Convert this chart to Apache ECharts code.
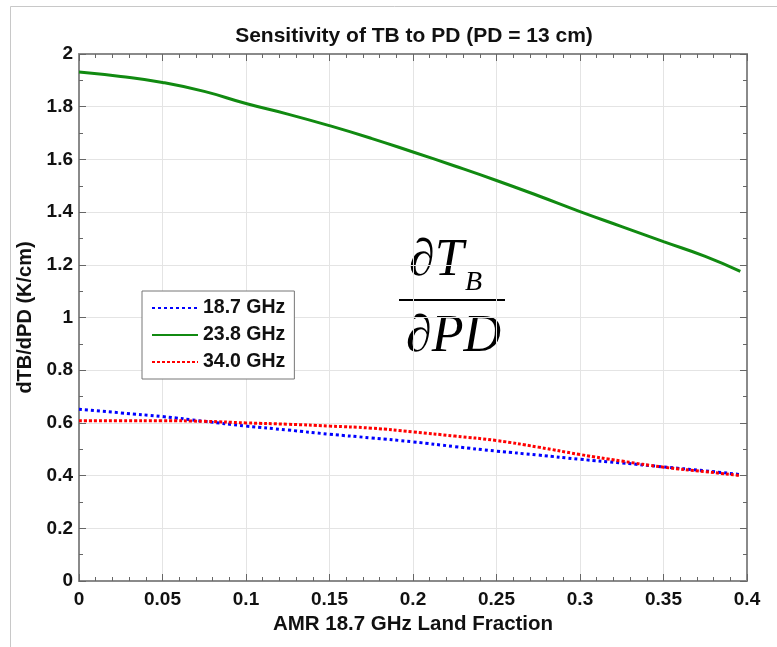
<!DOCTYPE html>
<html><head><meta charset="utf-8">
<script src="https://cdn.jsdelivr.net/npm/echarts@6/dist/echarts.min.js"></script>
<style>html,body{margin:0;padding:0;background:#fff}#c{width:777px;height:647px}</style>
</head><body><div id="c"></div>
<script>
const landFraction = [0, 0.025, 0.05, 0.075, 0.1, 0.125, 0.15, 0.175, 0.2, 0.225, 0.25, 0.275, 0.3, 0.325, 0.35, 0.375, 0.396];
const ghz187 = [0.652, 0.638, 0.624, 0.606, 0.588, 0.573, 0.557, 0.543, 0.528, 0.510, 0.493, 0.478, 0.462, 0.448, 0.433, 0.418, 0.404];
const ghz238 = [1.932, 1.915, 1.892, 1.858, 1.812, 1.772, 1.728, 1.680, 1.628, 1.575, 1.520, 1.462, 1.402, 1.345, 1.288, 1.232, 1.175];
const ghz340 = [0.608, 0.608, 0.608, 0.606, 0.600, 0.595, 0.588, 0.580, 0.566, 0.550, 0.533, 0.508, 0.480, 0.455, 0.432, 0.415, 0.400];
const seriesNames = ['18.7 GHz', '23.8 GHz', '34.0 GHz'];
const xTicks = ['0','0.05','0.1','0.15','0.2','0.25','0.3','0.35','0.4'];
const yTicks = ['0','0.2','0.4','0.6','0.8','1','1.2','1.4','1.6','1.8','2'];
const titleText = 'Sensitivity of TB to PD (PD = 13 cm)';

const pair = arr => landFraction.map((x, i) => [x, arr[i]]);
const chart = echarts.init(document.getElementById('c'));
const font = '"Liberation Sans", Arial, sans-serif';
const axColor = '#8a8a8a';
const txt = '#111';
function axisBase(extra) {
  return Object.assign({
    type: 'value',
    axisLine: {show: true, onZero: false, lineStyle: {color: axColor, width: 2}},
    axisTick: {show: true, inside: true, length: 7, lineStyle: {color: '#666', width: 1}},
    splitLine: {show: false}
  }, extra);
}
const minorX = {show: true, splitNumber: 5, length: 4, lineStyle: {color: '#666', width: 1}};
const minorY = {show: true, splitNumber: 2, length: 4, lineStyle: {color: '#666', width: 1}};
const grid = {color: '#e4e4e4', width: 1};
chart.setOption({
  backgroundColor: '#fff',
  animation: false,
  grid: {left: 79, right: 30, top: 54, bottom: 66},
  legend: {
    orient: 'vertical', left: 142, top: 291,
    data: seriesNames,
    itemWidth: 46, itemHeight: 12, itemGap: 7,
    padding: [7, 9, 7, 9],
    borderColor: '#777', borderWidth: 1, backgroundColor: '#fff',
    itemStyle: {opacity: 0},
    textStyle: {fontFamily: font, fontSize: 19.5, fontWeight: 'bold', color: txt}
  },
  xAxis: [
    axisBase({
      min: 0, max: 0.4, interval: 0.05,
      name: 'AMR 18.7 GHz Land Fraction', nameLocation: 'middle', nameGap: 29,
      nameTextStyle: {fontFamily: font, fontSize: 20.5, fontWeight: 'bold', color: txt},
      axisLabel: {fontFamily: font, fontSize: 19, fontWeight: 'bold', color: txt, margin: 9,
        formatter: v => xTicks[Math.round(v / 0.05)]},
      minorTick: minorX,
      splitLine: {show: true, lineStyle: grid}
    }),
    axisBase({
      position: 'top', min: 0, max: 0.4, interval: 0.05,
      axisLabel: {show: false}, minorTick: minorX
    })
  ],
  yAxis: [
    axisBase({
      min: 0, max: 2, interval: 0.2,
      name: 'dTB/dPD (K/cm)', nameLocation: 'middle', nameGap: 40,
      nameTextStyle: {fontFamily: font, fontSize: 20, fontWeight: 'bold', color: txt},
      axisLabel: {fontFamily: font, fontSize: 19, fontWeight: 'bold', color: txt, margin: 6,
        formatter: v => yTicks[Math.round(v / 0.2)]},
      minorTick: minorY,
      splitLine: {show: true, lineStyle: grid}
    }),
    axisBase({
      position: 'right', min: 0, max: 2, interval: 0.2,
      axisLabel: {show: false}, minorTick: minorY
    })
  ],
  series: [
    {name: seriesNames[0], type: 'line', data: pair(ghz187), smooth: true, symbol: 'none',
      itemStyle: {color: '#0000ff'}, lineStyle: {color: '#0000ff', width: 3, type: [3, 3]}, z: 3},
    {name: seriesNames[1], type: 'line', data: pair(ghz238), smooth: true, symbol: 'none',
      itemStyle: {color: '#118a11'}, lineStyle: {color: '#118a11', width: 3}, z: 2},
    {name: seriesNames[2], type: 'line', data: pair(ghz340), smooth: true, symbol: 'none',
      itemStyle: {color: '#ff0000'}, lineStyle: {color: '#ff0000', width: 3, type: [3, 2]}, z: 4}
  ],
  graphic: [
    {type: 'rect', shape: {x: 10.5, y: 6.5, width: 800, height: 700}, style: {fill: null, stroke: '#c8c8c8', lineWidth: 1}, z: -10},
    {type: 'text', x: 414, y: 36, style: {text: titleText, align: 'center', verticalAlign: 'middle',
      font: 'bold 21px "Liberation Sans", Arial, sans-serif', fill: txt}},
    {type: 'text', left: 409, top: 235, style: {text: '∂T', font: 'italic 52px "Liberation Serif", "Times New Roman", serif', fill: '#000'}},
    {type: 'text', left: 465, top: 269, style: {text: 'B', font: 'italic 28px "Liberation Serif", "Times New Roman", serif', fill: '#000'}},
    {type: 'rect', shape: {x: 399, y: 299, width: 106, height: 2}, style: {fill: '#000'}},
    {type: 'text', left: 406, top: 311, style: {text: '∂PD', font: 'italic 52px "Liberation Serif", "Times New Roman", serif', fill: '#000'}}
  ]
});
</script></body></html>
